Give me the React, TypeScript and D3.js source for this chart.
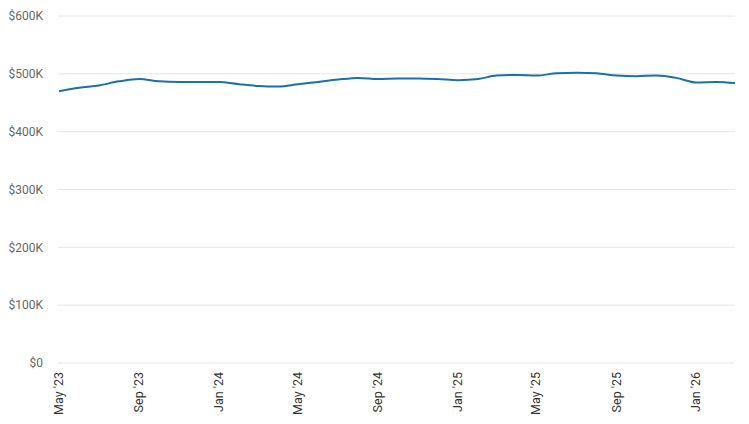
import React from 'react';
import * as d3 from 'd3';

// monthly values, May 2023 .. Mar 2026 (in $K)
const startMonth = new Date(2023, 4, 1);
const values = [
  470, 476, 480, 487, 491, 487, 486, 486, 486, 482, 479, 478,
  482, 486, 490, 493, 491, 492, 492, 491, 489, 491, 497, 498,
  497, 501, 502, 501, 497, 496, 497, 493, 485, 486, 484,
];
const yTicks = [0, 100, 200, 300, 400, 500, 600];
const xTickMonths = [0, 4, 8, 12, 16, 20, 24, 28, 32];

const W = 749;
const H = 424;
const margin = { top: 16, right: 14, bottom: 61, left: 58 };

const dates = values.map((_, i) => d3.timeMonth.offset(startMonth, i));
const fmtTick = (d: Date) => d3.timeFormat("%b '%y")(d);

export default function App() {
  const x = d3.scaleTime()
    .domain([dates[0], dates[dates.length - 1]])
    .range([margin.left + 1, W - margin.right]);
  const y = d3.scaleLinear()
    .domain([0, 600])
    .range([H - margin.bottom, margin.top]);

  const line = d3.line<number>()
    .x((_, i) => x(dates[i]))
    .y((d) => y(d))
    .curve(d3.curveMonotoneX);

  return (
    <div style={{ position: 'fixed', left: 0, top: 0 }}>
      <svg width={W} height={H} style={{ display: 'block', fontFamily: 'Roboto, sans-serif' }}>
        <rect width={W} height={H} fill="#fff" />
        {yTicks.map((t) => (
          <g key={t}>
            <line x1={margin.left} x2={W - margin.right} y1={y(t)} y2={y(t)} stroke="#e6e6e6" strokeWidth={1} />
            <text x={43} y={y(t)} dy="0.35em" textAnchor="end" fontSize={12} fill="#666">
              {t === 0 ? '$0' : `$${t}K`}
            </text>
          </g>
        ))}
        {xTickMonths.map((m) => {
          const d = dates[m];
          const px = x(d);
          return (
            <text
              key={m}
              transform={`translate(${px + 4},${H - margin.bottom + 9}) rotate(-90)`}
              textAnchor="end"
              fontSize={12.5}
              fill="#333"
            >
              {fmtTick(d)}
            </text>
          );
        })}
        <path d={line(values) || ''} fill="none" stroke="#1d6fa9" strokeWidth={2} />
      </svg>
    </div>
  );
}
